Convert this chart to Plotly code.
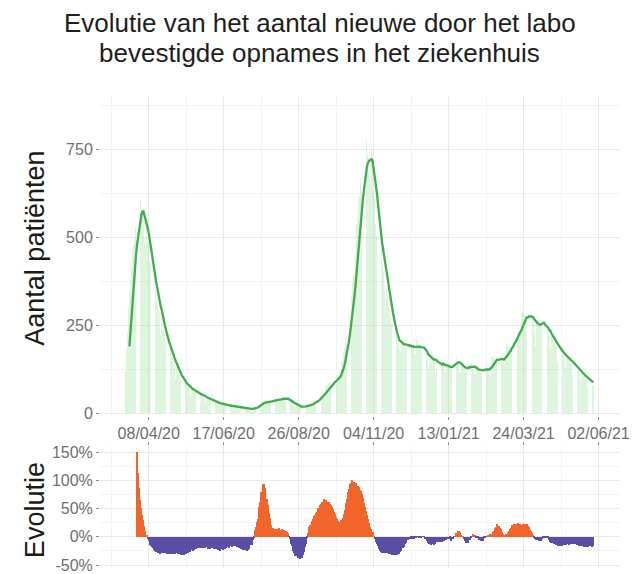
import pandas as pd
import plotly.graph_objects as go

# ---------------- data ----------------
start_date = "2020-03-15"

# daily new lab-confirmed hospital admissions (one row per week, Sun..Sat)
admissions = [
    65, 90, 120, 180, 230, 300, 350,
    380, 420, 460, 480, 500, 530, 576,
    540, 600, 610, 580, 580, 540, 500,
    470, 540, 490, 480, 430, 430, 380,
    335, 350, 360, 320, 330, 290, 285,
    220, 270, 235, 240, 225, 200, 190,
    155, 180, 180, 160, 160, 140, 135,
    98, 128, 115, 112, 108, 96, 93,
    72, 85, 88, 78, 80, 72, 69,
    53, 73, 64, 66, 60, 62, 54,
    46, 54, 56, 50, 52, 46, 44,
    33, 47, 41, 42, 40, 37, 36,
    27, 32, 34, 30, 31, 28, 26,
    20, 29, 24, 26, 25, 22, 22,
    16, 24, 21, 22, 19, 20, 17,
    14, 17, 18, 16, 17, 14, 13,
    9, 15, 12, 14, 11, 13, 11,
    12, 14, 15, 15, 18, 16, 17,
    20, 31, 28, 33, 31, 35, 29,
    27, 38, 33, 37, 35, 36, 32,
    34, 40, 43, 39, 42, 38, 37,
    35, 48, 44, 46, 42, 43, 37,
    33, 35, 34, 29, 29, 25, 25,
    17, 23, 19, 20, 17, 19, 16,
    18, 22, 23, 22, 24, 23, 22,
    22, 32, 31, 34, 34, 36, 33,
    39, 47, 53, 53, 58, 59, 59,
    60, 78, 79, 85, 85, 90, 83,
    82, 96, 102, 102, 108, 108, 106,
    108, 145, 150, 175, 185, 215, 200,
    235, 275, 315, 335, 375, 395, 395,
    445, 540, 560, 610, 620, 670, 635,
    650, 720, 760, 780, 735, 725, 670,
    655, 750, 710, 630, 610, 540, 505,
    435, 530, 480, 470, 420, 405, 365,
    305, 355, 335, 305, 295, 265, 255,
    195, 245, 220, 220, 200, 200, 180,
    175, 215, 215, 195, 200, 185, 185,
    160, 220, 195, 200, 185, 190, 170,
    165, 210, 210, 190, 195, 180, 175,
    155, 205, 180, 180, 155, 125, 155,
    145, 170, 170, 155, 155, 115, 145,
    118, 160, 145, 150, 135, 140, 122,
    118, 146, 143, 134, 136, 124, 122,
    122, 170, 155, 160, 145, 145, 118,
    115, 144, 144, 130, 132, 118, 117,
    116, 160, 141, 144, 128, 128, 113,
    108, 136, 136, 124, 128, 116, 112,
    105, 149, 132, 134, 122, 121, 110,
    128, 160, 164, 156, 162, 151, 147,
    125, 174, 161, 164, 154, 159, 137,
    153, 196, 199, 186, 194, 181, 188,
    177, 245, 230, 236, 226, 234, 222,
    224, 286, 290, 280, 284, 276, 272,
    226, 305, 286, 284, 271, 273, 232,
    193, 266, 279, 266, 269, 256, 258,
    206, 270, 246, 249, 236, 239, 216,
    184, 226, 219, 201, 204, 191, 189,
    147, 199, 181, 179, 166, 168, 157,
    133, 166, 163, 151, 153, 142, 143,
    108, 148, 135, 133, 122, 123, 112,
    92, 117, 114, 106, 106, 98, 98,
    73, 100, 90, 90, 82, 82,
]

tick_dates = ["2020-04-08", "2020-06-17", "2020-08-26", "2020-11-04",
              "2021-01-13", "2021-03-24", "2021-06-02"]
tick_labels = ["08/04/20", "17/06/20", "26/08/20", "04/11/20",
               "13/01/21", "24/03/21", "02/06/21"]
minor_dates = ["2020-03-04", "2020-05-13", "2020-07-22", "2020-09-30",
               "2020-12-09", "2021-02-17", "2021-04-28"]
count_ticks = [0, 250, 500, 750]
count_minor = [125, 375, 625, 875]
evo_ticks = [-0.5, 0, 0.5, 1.0, 1.5]
evo_labels = ["-50%", "0%", "50%", "100%", "150%"]
evo_minor = [-0.25, 0.25, 0.75, 1.25]

title_lines = ["Evolutie van het aantal nieuwe door het labo",
               "bevestigde opnames in het ziekenhuis"]
y_title_top = "Aantal patiënten"
y_title_bottom = "Evolutie"

# ---------------- derived series ----------------
dates = pd.date_range(start_date, periods=len(admissions), freq="D")
s = pd.Series(admissions, index=dates, dtype=float)
avg7 = s.rolling(7).mean()
evo = (avg7 / avg7.shift(7) - 1).dropna()

ORANGE = "#f2652a"
BLUE = "#5a4fa6"
evo_colors = [ORANGE if v >= 0 else BLUE for v in evo.values]

DAY = 86400000
FONT = "Liberation Sans, Arial, sans-serif"
TICK_FONT = dict(family=FONT, size=16, color="#6e6e6e")
GRID = "#e9e9e9"
MINOR_GRID = "#f4f4f4"

fig = go.Figure()
fig.add_trace(go.Bar(
    x=dates, y=admissions, width=0.72 * DAY,
    marker=dict(color="rgba(150,220,150,0.32)", line=dict(width=0)),
    xaxis="x", yaxis="y", hoverinfo="skip"))
fig.add_trace(go.Scatter(
    x=avg7.index, y=avg7.values, mode="lines",
    line=dict(color="rgb(64,172,78)", width=2.3),
    xaxis="x", yaxis="y"))
fig.add_trace(go.Bar(
    x=evo.index, y=evo.values, width=DAY,
    marker=dict(color=evo_colors, line=dict(width=0)),
    xaxis="x2", yaxis="y2"))

x_range = ["2020-02-22 12:00", "2021-06-22"]
common_x = dict(
    type="date", range=x_range,
    tickmode="array", tickvals=tick_dates, ticktext=tick_labels,
    ticks="outside", ticklen=3, tickcolor="#8a8a8a",
    showgrid=True, gridcolor=GRID, gridwidth=1,
    minor=dict(tickmode="array", tickvals=minor_dates, showgrid=True,
               gridcolor=MINOR_GRID, ticks=""),
    showline=False, zeroline=False,
)

fig.update_layout(
    width=640, height=574,
    margin=dict(l=100, r=20, t=96, b=0),
    paper_bgcolor="white", plot_bgcolor="white",
    showlegend=False, bargap=0,
    font=dict(family=FONT),
    xaxis=dict(domain=[0, 1], anchor="y", tickfont=TICK_FONT, **common_x),
    xaxis2=dict(domain=[0, 1], anchor="y2", side="top", showticklabels=False,
                **common_x),
    yaxis=dict(
        domain=[0.3214, 1], range=[-8.5, 903.4],
        tickmode="array", tickvals=count_ticks,
        ticks="outside", ticklen=3, tickcolor="#8a8a8a",
        showgrid=True, gridcolor=GRID,
        minor=dict(tickmode="array", tickvals=count_minor, showgrid=True,
                   gridcolor=MINOR_GRID, ticks=""),
        zeroline=False, showline=False, tickfont=TICK_FONT),
    yaxis2=dict(
        domain=[0, 0.2579], range=[-0.553, 1.606],
        tickmode="array", tickvals=evo_ticks, ticktext=evo_labels,
        ticks="outside", ticklen=3, tickcolor="#8a8a8a",
        showgrid=True, gridcolor=GRID,
        minor=dict(tickmode="array", tickvals=evo_minor, showgrid=True,
                   gridcolor=MINOR_GRID, ticks=""),
        zeroline=False, showline=False, tickfont=TICK_FONT),
    annotations=[
        dict(text=title_lines[0], xref="paper", yref="paper", x=0.423, y=1.1543,
             xanchor="center", yanchor="middle", showarrow=False,
             font=dict(family=FONT, size=26, color="#1e1e1e")),
        dict(text=title_lines[1], xref="paper", yref="paper", x=0.423, y=1.0909,
             xanchor="center", yanchor="middle", showarrow=False,
             font=dict(family=FONT, size=26, color="#1e1e1e")),
        dict(text=y_title_top, xref="paper", yref="paper", x=0, y=0.6765,
             xshift=-65, xanchor="center", yanchor="middle", textangle=-90,
             showarrow=False, font=dict(family=FONT, size=27, color="#1a1a1a")),
        dict(text=y_title_bottom, xref="paper", yref="paper", x=0, y=0.1226,
             xshift=-65, xanchor="center", yanchor="middle", textangle=-90,
             showarrow=False, font=dict(family=FONT, size=27, color="#1a1a1a")),
    ],
)

fig.write_html("out.html",
               config={"displayModeBar": False},
               post_script="document.body.style.margin='0';"
                           "document.body.style.padding='0';")
